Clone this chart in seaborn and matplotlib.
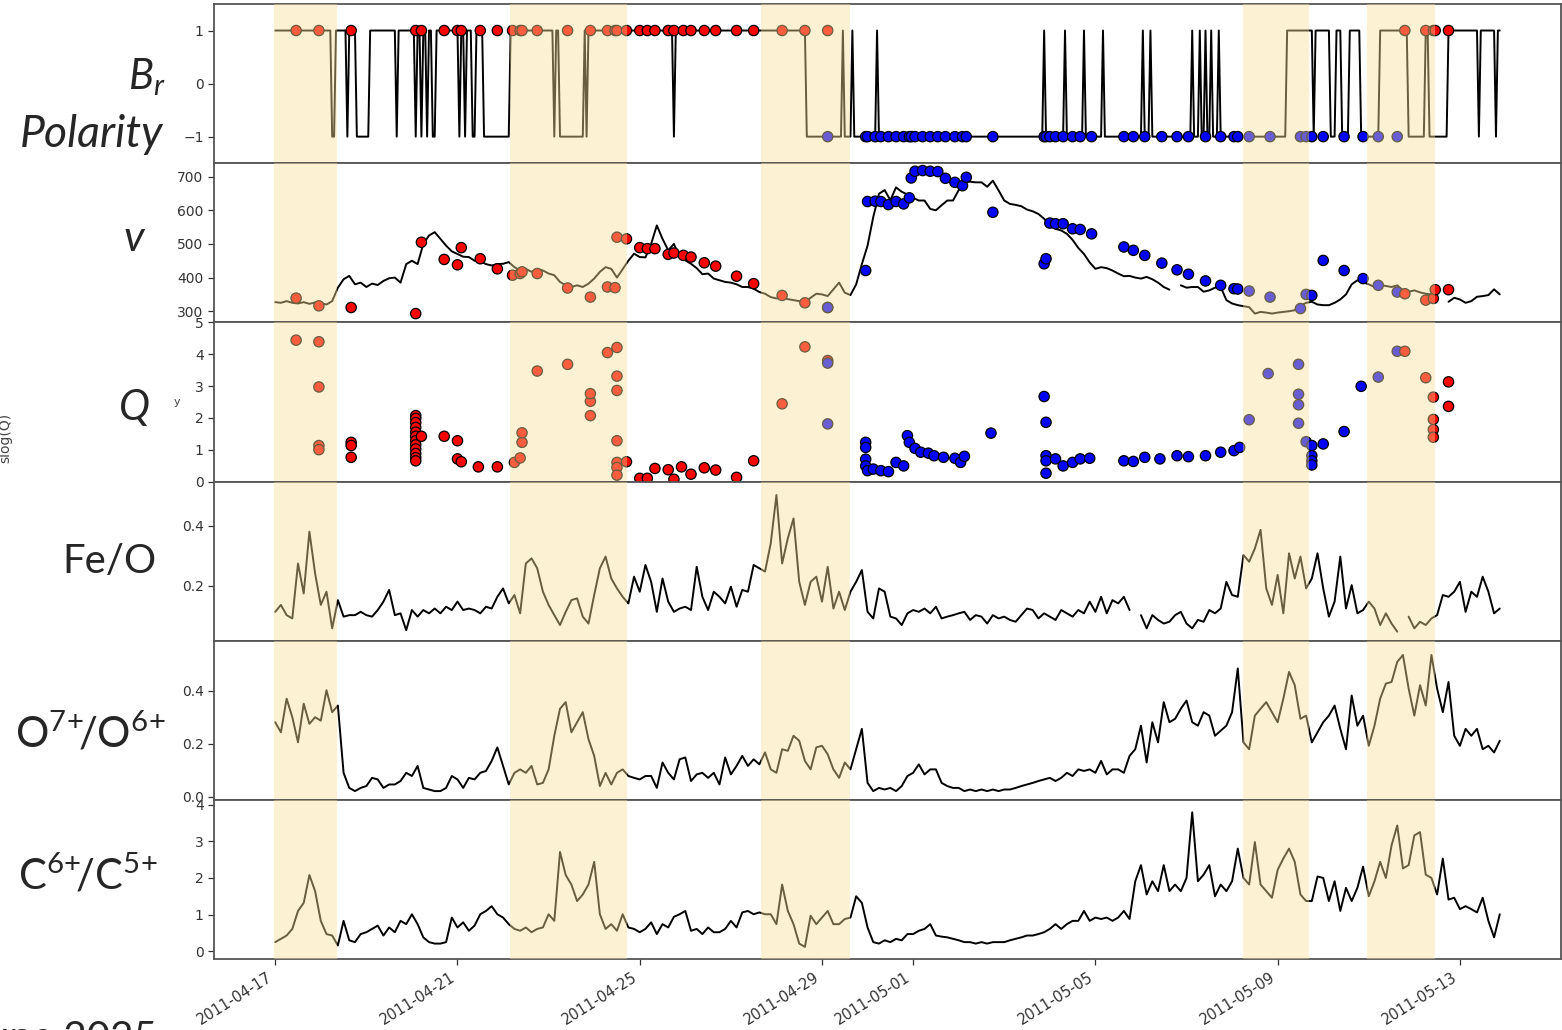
import numpy as np
import pandas as pd
import matplotlib
matplotlib.use("Agg")
import matplotlib.pyplot as plt
import matplotlib.dates as mdates
import seaborn as sns

sns.set_style("ticks")
plt.rcParams["font.family"] = ["DejaVu Sans"]
plt.rcParams["mathtext.fontset"] = "custom"
plt.rcParams["mathtext.rm"] = "Lato"
plt.rcParams["mathtext.it"] = "Lato:italic"
plt.rcParams["mathtext.bf"] = "Lato:bold"

# ---------------- data ----------------
START = "2011-04-17 00:00"
STEP_HOURS = 3

fe_o = [
    0.113, 0.136, 0.102, 0.091, 0.274, 0.174, 0.380, 0.241, 0.136, 0.180,
    0.058, 0.152, 0.097, 0.102, 0.102, 0.113, 0.102, 0.097, 0.119, 0.147,
    0.186, 0.102, 0.108, 0.052, 0.119, 0.097, 0.119, 0.108, 0.124, 0.108,
    0.130, 0.119, 0.147, 0.119, 0.124, 0.119, 0.108, 0.130, 0.124, 0.163,
    0.191, 0.141, 0.169, 0.108, 0.274, 0.291, 0.258, 0.180, 0.136, 0.102,
    0.069, 0.113, 0.152, 0.158, 0.097, 0.074, 0.169, 0.258, 0.297, 0.224,
    0.191, 0.163, 0.141, 0.230, 0.180, 0.269, 0.213, 0.113, 0.224, 0.147,
    0.113, 0.124, 0.130, 0.119, 0.263, 0.163, 0.119, 0.180, 0.163, 0.141,
    0.197, 0.130, 0.186, 0.180, 0.269, 0.258, 0.247, 0.341, 0.502, 0.274,
    0.358, 0.424, 0.213, 0.136, 0.213, 0.230, 0.147, 0.263, 0.124, 0.180,
    0.119, 0.180, 0.213, 0.252, 0.113, 0.091, 0.191, 0.180, 0.097, 0.091,
    0.069, 0.108, 0.119, 0.113, 0.124, 0.108, 0.130, 0.091, 0.097, 0.102,
    0.108, 0.113, 0.086, 0.102, 0.097, 0.074, 0.102, 0.091, 0.097, 0.086,
    0.080, 0.102, 0.124, 0.119, 0.091, 0.108, 0.097, 0.086, 0.119, 0.108,
    0.097, 0.119, 0.108, 0.147, 0.113, 0.163, 0.108, 0.152,
    0.141, 0.163, 0.119, np.nan, 0.102, 0.058, 0.102, 0.086, 0.074, 0.080,
    0.102, 0.113, 0.074, 0.058, 0.086, 0.080, 0.119, 0.108, 0.124, 0.213,
    0.169, 0.163, 0.302, 0.280, 0.324, 0.386, 0.191, 0.136, 0.236, 0.108,
    0.308, 0.224, 0.297, 0.191, 0.224, 0.308, 0.191, 0.097, 0.147, 0.297,
    0.124, 0.202, 0.108, 0.119, 0.147, 0.124, 0.069, 0.108, 0.074, 0.047,
    np.nan, 0.097, 0.058, 0.080, 0.069, 0.091, 0.102, 0.169, 0.163, 0.180,
    0.213, 0.113, 0.180, 0.163, 0.230, 0.180, 0.108, 0.124,
]

o7_o6 = [
    0.282, 0.244, 0.371, 0.301, 0.206, 0.352, 0.276, 0.301, 0.288, 0.403,
    0.320, 0.345, 0.091, 0.034, 0.022, 0.034, 0.041, 0.072, 0.066, 0.034,
    0.047, 0.047, 0.060, 0.091, 0.079, 0.117, 0.034, 0.028, 0.022, 0.022,
    0.034, 0.079, 0.066, 0.034, 0.072, 0.066, 0.091, 0.098, 0.136, 0.187,
    0.117, 0.047, 0.091, 0.104, 0.091, 0.117, 0.047, 0.053, 0.104, 0.231,
    0.333, 0.358, 0.244, 0.282, 0.320, 0.218, 0.155, 0.041, 0.091, 0.047,
    0.091, 0.104, 0.079, 0.072, 0.066, 0.079, 0.079, 0.034, 0.130, 0.091,
    0.066, 0.142, 0.149, 0.060, 0.085, 0.091, 0.072, 0.091, 0.047, 0.149,
    0.085, 0.117, 0.155, 0.117, 0.142, 0.123, 0.168, 0.104, 0.091, 0.180,
    0.174, 0.231, 0.212, 0.136, 0.104, 0.187, 0.193, 0.161, 0.104, 0.072,
    0.130, 0.104, 0.180, 0.257, 0.053, 0.022, 0.034, 0.028, 0.034, 0.022,
    0.041, 0.079, 0.091, 0.123, 0.085, 0.104, 0.104, 0.053, 0.041, 0.034,
    0.034, 0.022, 0.028, 0.022, 0.028, 0.022, 0.028, 0.022, 0.028, 0.028,
    0.034, 0.041, 0.047, 0.053, 0.060, 0.066, 0.072, 0.060, 0.072, 0.091,
    0.079, 0.104, 0.098, 0.104, 0.091, 0.136, 0.085, 0.104,
    0.104, 0.091, 0.155, 0.180, 0.269, 0.130, 0.282, 0.206, 0.358, 0.282,
    0.295, 0.333, 0.364, 0.282, 0.269, 0.320, 0.307, 0.231, 0.250, 0.269,
    0.320, 0.485, 0.206, 0.180, 0.307, 0.333, 0.358, 0.320, 0.282, 0.371,
    0.472, 0.422, 0.295, 0.307, 0.206, 0.244, 0.282, 0.307, 0.345, 0.257,
    0.180, 0.383, 0.269, 0.307, 0.193, 0.269, 0.371, 0.428, 0.434, 0.510,
    0.536, 0.409, 0.307, 0.422, 0.345, 0.536, 0.409, 0.320, 0.434, 0.231,
    0.193, 0.257, 0.231, 0.257, 0.180, 0.193, 0.168, 0.212,
]

c6_c5 = [
    0.25, 0.34, 0.43, 0.61, 1.10, 1.32, 2.08, 1.64, 0.83, 0.47,
    0.43, 0.16, 0.83, 0.30, 0.25, 0.47, 0.52, 0.61, 0.70, 0.43,
    0.65, 0.52, 0.83, 0.74, 1.01, 0.74, 0.38, 0.25, 0.21, 0.21,
    0.25, 0.92, 0.65, 0.79, 0.56, 0.70, 1.01, 1.10, 1.23, 1.01,
    0.92, 0.74, 0.61, 0.56, 0.65, 0.52, 0.61, 0.65, 1.01, 0.83,
    2.71, 2.08, 1.82, 1.37, 1.55, 1.82, 2.44, 1.01, 0.61, 0.74,
    0.56, 1.01, 0.65, 0.61, 0.52, 0.61, 0.79, 0.47, 0.74, 0.65,
    0.94, 1.01, 1.10, 0.56, 0.61, 0.47, 0.65, 0.52, 0.52, 0.61,
    0.83, 0.65, 1.06, 1.10, 1.01, 1.06, 1.01, 1.01, 0.74, 1.82,
    1.10, 0.74, 0.21, 0.12, 0.97, 0.74, 0.92, 1.10, 0.74, 0.74,
    0.88, 0.92, 1.50, 1.32, 0.65, 0.25, 0.21, 0.30, 0.25, 0.34,
    0.30, 0.47, 0.47, 0.56, 0.61, 0.74, 0.43, 0.40, 0.38, 0.34,
    0.30, 0.25, 0.25, 0.21, 0.25, 0.21, 0.25, 0.25, 0.25, 0.30,
    0.34, 0.38, 0.43, 0.43, 0.47, 0.52, 0.61, 0.74, 0.61, 0.74,
    0.83, 0.83, 1.10, 0.83, 0.92, 0.88, 0.92, 0.83,
    0.92, 1.10, 0.88, 1.91, 2.35, 1.55, 1.91, 1.64, 2.35, 1.64,
    1.82, 1.64, 2.00, 3.79, 1.91, 2.09, 2.35, 1.50, 1.82, 1.64,
    1.91, 2.80, 2.00, 1.82, 2.98, 1.82, 1.64, 1.46, 2.22, 2.53,
    2.80, 2.44, 1.55, 1.37, 1.37, 2.04, 2.00, 1.37, 1.91, 1.10,
    1.73, 1.37, 1.73, 2.31, 1.50, 1.91, 2.44, 2.00, 2.89, 3.43,
    2.26, 2.35, 3.16, 3.25, 2.09, 2.00, 1.55, 2.53, 1.41, 1.46,
    1.15, 1.23, 1.15, 1.06, 1.46, 0.83, 0.38, 1.01,
]

speed = [
    327, 325, 330, 325, 323, 327, 322, 326, 324, 320,
    330, 370, 395, 405, 380, 385, 372, 382, 378, 390,
    398, 400, 385, 440, 450, 440, 500, 525, 535, 515,
    495, 478, 470, 462, 461, 450, 448, 440, 436, 440,
    441, 446, 431, 421, 426, 417, 426, 421, 412, 407,
    387, 377, 372, 377, 372, 382, 397, 417, 431, 426,
    400, 425, 450, 471, 461, 460, 500, 555, 515, 481,
    500, 461, 451, 441, 428, 410, 412, 397, 392, 387,
    385, 380, 372, 372, 367, 357,
    352, 342, 338, 340,
    336, 333, 330, 328, 340, 352, 350, 345, 365, 385,
    355, 348, 380, 440, 495, 580, 649, 660, 630, 668,
    655, 647, 637, 629, 629, 604, 600, 615, 629, 629,
    660, 685, 685, 683, 683, 670, 688, 659, 629, 619,
    616, 612, 602, 597, 589, 575, 555, 545, 540, 530,
    512, 488, 470, 445, 426, 431, 428, 421, 412, 404,
    405, 400, 397, 402, 395, 385, 372, 364, np.nan, 377,
    370, 372, 372, 358, 362, 370, 372, 333, 323, 318,
    315, 312, 293, 298, 296, 293, 296, 298, 300, 303,
    316, 325, 328, 320, 318, 318, 325, 335, 350, 380,
    392, 386, 380, 372, 378, 375, 372, 377, 362, 358,
    362, 356, 352, 350, 347, np.nan, 328, 340, 335, 325,
    330, 343, 345, 348, 365, 350,
]

# Hourly radial-field polarity: starts at +1, flips sign at each listed hour
br_switch_hours = [
    30, 32, 38, 39, 43, 50, 64, 65, 74, 75, 77, 78, 80, 81, 83, 85, 97, 98,
    100, 101, 104, 106, 110, 124, 147, 148, 150, 163, 164, 165, 210, 211,
    280, 299, 300, 304, 305, 317, 318, 405, 406, 416, 417, 426, 427, 436,
    437, 457, 458, 461, 462, 483, 484, 487, 488, 490, 491, 493, 494, 497,
    498, 533, 547, 548, 556, 559, 562, 566, 572, 582, 597, 606, 608, 618,
    634, 635, 643, 644,
]
br_total_hours = 646

# Events (hours after start), polarity and speed
ev_hour = [
    11, 23, 40, 74, 77, 89, 96, 98, 108, 117, 125, 129, 130, 138, 154, 166,
    175, 179, 180, 185, 192, 196, 200, 207, 210, 215, 219, 226, 232, 243,
    252, 267, 279, 291, 291, 311, 312, 316, 319, 323, 327, 331, 334, 335,
    337, 341, 345, 349, 353, 358, 362, 364, 378, 405, 406, 408, 411, 415,
    420, 424, 430, 447, 452, 458, 467, 475, 481, 490, 498, 505, 507, 513,
    524, 540, 543, 546, 552, 563, 573, 581, 591, 595, 606, 610, 611, 618,
]
ev_pol = [
    1, 1, 1, 1, 1, 1, 1, 1, 1, 1, 1, 1, 1, 1, 1, 1,
    1, 1, 1, 1, 1, 1, 1, 1, 1, 1, 1, 1, 1, 1,
    1, 1, 1, 1, -1, -1, -1, -1, -1, -1, -1, -1, -1, -1,
    -1, -1, -1, -1, -1, -1, -1, -1, -1, -1, -1, -1, -1, -1,
    -1, -1, -1, -1, -1, -1, -1, -1, -1, -1, -1, -1, -1, -1,
    -1, -1, -1, -1, -1, -1, -1, -1, -1, 1, 1, 1, 1, 1,
]
ev_speed = [
    339, 316, 311, 293, 505, 454, 438, 489, 456, 426, 407, 412, 417, 412, 369, 342,
    372, 370, 520, 515, 489, 486, 486, 469, 473, 466, 461, 444, 434, 404,
    382, 347, 325, 311, 311, 421, 626, 627, 626, 617, 626, 619, 637, 696,
    716, 718, 716, 715, 695, 683, 673, 698, 594, 441, 456, 562, 560, 560,
    545, 543, 530, 491, 481, 466, 443, 423, 410, 390, 377, 367, 366, 360,
    342, 308, 350, 347, 451, 421, 397, 377, 357, 352, 333, 338, 364, 364,
]

# Charge-state measurements: hour, polarity, values at that hour
q_hour = [
    11, 23, 40, 74, 77, 89, 96, 98, 107, 117, 126, 129, 130, 138, 154, 166,
    175, 180, 185, 192, 196, 200, 207, 210, 214, 219, 226, 232, 243, 252,
    267, 279, 291, 291, 311, 312, 315, 319, 323, 327, 331, 333, 334, 337,
    340, 344, 347, 352, 358, 361, 363, 377, 405, 406, 411, 415, 420, 424,
    429, 447, 452, 458, 466, 475, 481, 490, 498, 505, 508, 513, 523, 539,
    543, 546, 552, 563, 572, 581, 591, 595, 606, 610, 618,
]
q_pol = [
    1, 1, 1, 1, 1, 1, 1, 1, 1, 1, 1, 1, 1, 1, 1, 1,
    1, 1, 1, 1, 1, 1, 1, 1, 1, 1, 1, 1, 1, 1,
    1, 1, 1, -1, -1, -1, -1, -1, -1, -1, -1, -1, -1, -1,
    -1, -1, -1, -1, -1, -1, -1, -1, -1, -1, -1, -1, -1, -1,
    -1, -1, -1, -1, -1, -1, -1, -1, -1, -1, -1, -1, -1, -1,
    -1, -1, -1, -1, -1, -1, -1, 1, 1, 1, 1,
]
q_values = [
    [4.44], [4.39, 2.97, 1.13, 1.00], [1.23, 1.13, 0.76],
    [2.07, 1.98, 1.85, 1.70, 1.55, 1.42, 1.28, 1.15, 1.02, 0.88, 0.75, 0.65],
    [1.42], [1.42], [1.28, 0.71], [0.62], [0.46], [0.46], [0.60], [0.74],
    [1.23, 1.53], [3.47], [3.68], [2.07, 2.52, 2.76],
    [4.05], [4.21, 3.31, 2.86, 1.28, 0.60, 0.44, 0.20], [0.62], [0.10],
    [0.10], [0.41], [0.37], [0.07], [0.46], [0.23], [0.43], [0.36], [0.13], [0.65],
    [2.44], [4.23], [3.80], [3.72, 1.81], [1.23, 1.07, 0.70, 0.49], [0.34],
    [0.39], [0.34], [0.31], [0.60], [0.49], [1.44], [1.23], [1.04],
    [0.92], [0.89], [0.81], [0.76], [0.73], [0.60], [0.79], [1.52], [2.67],
    [1.86, 0.81, 0.65, 0.26], [0.71], [0.49], [0.60], [0.71],
    [0.73], [0.65], [0.63], [0.76], [0.71], [0.81], [0.78], [0.81], [0.92],
    [0.97], [1.07], [1.94], [3.39], [3.68, 2.74, 2.41, 1.83],
    [1.25], [1.13, 0.81, 0.65, 0.52], [1.18], [1.57], [2.99], [3.28], [4.09],
    [4.09], [3.26], [2.65, 1.95, 1.63, 1.39], [3.13, 2.36],
]

span_start = ["2011-04-16 23:30", "2011-04-22 03:30", "2011-04-27 16:00",
              "2011-05-08 05:30", "2011-05-10 23:10"]
span_end = ["2011-04-18 08:30", "2011-04-24 17:30", "2011-04-29 14:50",
            "2011-05-09 16:40", "2011-05-12 10:55"]

row_labels = ["$B_r$", "Polarity", "$v$", "$Q$", "Fe/O",
              "O$^{7\\!+}\\!\\!$/O$^{6\\!+}$", "C$^{6\\!+}\\!\\!$/C$^{5\\!+}$"]

# ---------------- frames ----------------
t0 = pd.Timestamp(START)
t3 = t0 + pd.to_timedelta(np.arange(len(fe_o)) * STEP_HOURS, unit="h")

br_hours = np.arange(br_total_hours)
br_pol = np.where(np.searchsorted(br_switch_hours, br_hours, side="right") % 2 == 0, 1, -1)
br_df = pd.DataFrame({"t": t0 + pd.to_timedelta(br_hours, unit="h"), "y": br_pol})

ev_df = pd.DataFrame({
    "t": t0 + pd.to_timedelta(ev_hour, unit="h"),
    "pol": ev_pol,
    "v": ev_speed,
})
ev_df["sign"] = np.where(ev_df["pol"] > 0, "+", "-")

q_rows = []
for h, p, vals in zip(q_hour, q_pol, q_values):
    for val in vals:
        q_rows.append((h, p, val))
q_df = pd.DataFrame(q_rows, columns=["h", "pol", "q"])
q_df["t"] = t0 + pd.to_timedelta(q_df["h"], unit="h")
q_df["sign"] = np.where(q_df["pol"] > 0, "+", "-")

palette = {"+": "#ff0000", "-": "#0000ff"}


def seg_frame(t, y):
    df = pd.DataFrame({"t": t, "y": np.asarray(y, dtype=float)})
    df["seg"] = df["y"].isna().cumsum()
    return df.dropna()


# ---------------- figure ----------------
W, H = 1562, 1030
fig = plt.figure(figsize=(W / 100, H / 100), dpi=100)
axes = fig.subplots(6, 1, sharex=True, gridspec_kw=dict(hspace=0))
fig.subplots_adjust(left=214 / W, right=1561 / W, top=1 - 4 / H, bottom=1 - 959 / H)

LW = 1.4
DOT = dict(s=55, edgecolor="black", linewidth=0.9, legend=False, zorder=3)

ax = axes[0]
sns.lineplot(data=br_df, x="t", y="y", estimator=None, color="black", lw=LW, ax=ax)
sns.scatterplot(data=ev_df, x="t", y="pol", hue="sign", palette=palette, ax=ax, **DOT)
ax.set_ylim(-1.5, 1.5)
ax.set_yticks([-1, 0, 1])

ax = axes[1]
sns.lineplot(data=seg_frame(t3, speed), x="t", y="y", units="seg", estimator=None,
             color="black", lw=LW, ax=ax)
sns.scatterplot(data=ev_df, x="t", y="v", hue="sign", palette=palette, ax=ax, **DOT)
ax.set_ylim(267, 740)
ax.set_yticks([300, 400, 500, 600, 700])

ax = axes[2]
sns.scatterplot(data=q_df, x="t", y="q", hue="sign", palette=palette, ax=ax, **DOT)
ax.set_ylim(0, 5)
ax.set_yticks([0, 1, 2, 3, 4, 5])

for ax, series, ylim, ticks in [
    (axes[3], fe_o, (0.017, 0.547), [0.2, 0.4]),
    (axes[4], o7_o6, (-0.011, 0.59), [0.0, 0.2, 0.4]),
    (axes[5], c6_c5, (-0.21, 4.13), [0, 1, 2, 3, 4]),
]:
    sns.lineplot(data=seg_frame(t3, series), x="t", y="y", units="seg", estimator=None,
                 color="black", lw=LW, ax=ax)
    ax.set_ylim(*ylim)
    ax.set_yticks(ticks)

pad = (t3[-1] - t3[0]) * 0.05
for i, ax in enumerate(axes):
    for s, e in zip(span_start, span_end):
        ax.axvspan(pd.Timestamp(s), pd.Timestamp(e), color="#fae098", alpha=0.42,
                   lw=0, zorder=4)
    ax.set_xlim(t3[0] - pad, t3[-1] + pad)
    ax.set_xlabel("")
    ax.set_ylabel("")
    for sp in ax.spines.values():
        sp.set_color("#555555")
        sp.set_linewidth(1.3)
    ax.tick_params(axis="y", labelsize=10, labelcolor="#333333", color="#333333",
                   length=4, width=0.9)
    if i < 5:
        ax.tick_params(axis="x", bottom=False, labelbottom=False)

ax = axes[5]
ax.xaxis.set_major_locator(mdates.DayLocator(bymonthday=[1, 5, 9, 13, 17, 21, 25, 29]))
ax.xaxis.set_major_formatter(mdates.DateFormatter("%Y-%m-%d"))
ax.tick_params(axis="x", labelsize=10.5, labelcolor="#333333", color="#333333",
               length=4, width=0.9)
for lab in ax.get_xticklabels():
    lab.set_rotation(32)
    lab.set_ha("right")

# ---------------- row labels ----------------
FS = 29
def ftext(xp, yp, s, size=FS, **kw):
    fig.text(xp / W, 1 - yp / H, s, ha="right", va="baseline", fontsize=size,
             family="Lato", **kw)

ftext(165, 89, row_labels[0], size=30)
ftext(163, 147, row_labels[1], size=32, style="italic")
ftext(146, 251, row_labels[2], size=31)
ftext(150, 420, row_labels[3], size=30)
ftext(157, 573, row_labels[4])
ftext(166, 747, row_labels[5], size=30)
ftext(158, 890, row_labels[6], size=30)

fig.text(157 / W, 1 - 1020 / H, "June 2025", ha="right", va="top", fontsize=FS,
         family="Lato")
fig.text(5 / W, 1 - 438 / H, "slog(Q)", rotation=90, ha="center", va="center",
         fontsize=10, color="#444444")
fig.text(177 / W, 1 - 402 / H, "y", ha="center", va="center", fontsize=8,
         color="#444444")

fig.savefig("out.png", dpi=100)
